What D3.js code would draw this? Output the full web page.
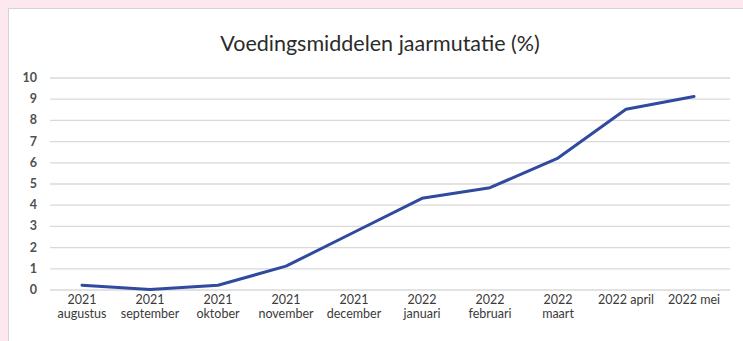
<!DOCTYPE html>
<html>
<head>
<meta charset="utf-8">
<script src="https://cdn.jsdelivr.net/npm/d3@7"></script>
<style>
  body { margin: 0; background: #fce8ef; }
  svg { display: block; }
</style>
</head>
<body>
<div id="chart"></div>
<script>
// Data
var years = ["2021", "2021", "2021", "2021", "2021", "2022", "2022", "2022", "2022", "2022"];
var months = ["augustus", "september", "oktober", "november", "december", "januari", "februari", "maart", "april", "mei"];
var values = [0.2, 0.0, 0.2, 1.1, 2.7, 4.3, 4.8, 6.2, 8.5, 9.1];
var yTicks = [0, 1, 2, 3, 4, 5, 6, 7, 8, 9, 10];

var W = 743, H = 341;
var margin = {top: 77.5, right: 13, bottom: 51.5, left: 50},
    width = W - margin.left - margin.right,
    height = H - margin.top - margin.bottom;

var root = d3.select("#chart").append("svg")
    .attr("width", W)
    .attr("height", H);

// white panel
root.append("rect")
    .attr("x", 8.5).attr("y", 8.5)
    .attr("width", W).attr("height", H)
    .attr("fill", "#fff")
    .attr("stroke", "#d4d4d4");

root.append("text")
    .attr("x", 380).attr("y", 51)
    .attr("text-anchor", "middle")
    .style("font-family", "Lato, sans-serif")
    .style("font-size", "21.5px")
    .style("fill", "#2b2b2b")
    .text("Voedingsmiddelen jaarmutatie (%)");

var svg = root.append("g")
    .attr("transform", "translate(" + margin.left + "," + margin.top + ")");

var labels = years.map((d, i) => d + " " + months[i]);

var x = d3.scaleBand()
    .domain(labels)
    .range([-2, width - 2]);

var y = d3.scaleLinear()
    .domain([0, 10])
    .range([height, 0]);

// gridlines + y labels
svg.append("g")
    .call(d3.axisRight(y)
      .tickValues(yTicks)
      .tickSize(width))
    .call(g => g.select(".domain").remove())
    .call(g => g.selectAll(".tick line")
        .attr("stroke", "#d9d9d9")
        .attr("stroke-width", 1.3))
    .call(g => g.selectAll(".tick text")
        .attr("x", -13)
        .attr("text-anchor", "end")
        .style("font-family", "Lato, sans-serif")
        .style("font-size", "12.5px")
        .style("font-weight", "bold")
        .style("fill", "#505050"));

// x labels
var xa = svg.append("g")
    .attr("transform", "translate(0," + height + ")")
    .call(d3.axisBottom(x).tickSize(0).tickFormat(""))
    .call(g => g.select(".domain").remove());

xa.selectAll(".tick").each(function(d, i) {
  var t = d3.select(this).append("text")
      .attr("text-anchor", "middle")
      .style("font-family", "Lato, sans-serif")
      .style("font-size", "12.5px")
      .style("fill", "#3a3a3a");
  if (i >= 8) {
    t.append("tspan").attr("x", 0).attr("y", 14).text(years[i] + " " + months[i]);
  } else {
    t.append("tspan").attr("x", 0).attr("y", 14).text(years[i]);
    t.append("tspan").attr("x", 0).attr("y", 28).text(months[i]);
  }
});

// line
svg.append("path")
    .datum(values)
    .attr("fill", "none")
    .attr("stroke", "#2f4a9e")
    .attr("stroke-width", 3)
    .attr("stroke-linejoin", "round")
    .attr("stroke-linecap", "round")
    .attr("d", d3.line()
      .x((d, i) => x(labels[i]) + x.bandwidth() / 2)
      .y(d => y(d)));
</script>
</body>
</html>
